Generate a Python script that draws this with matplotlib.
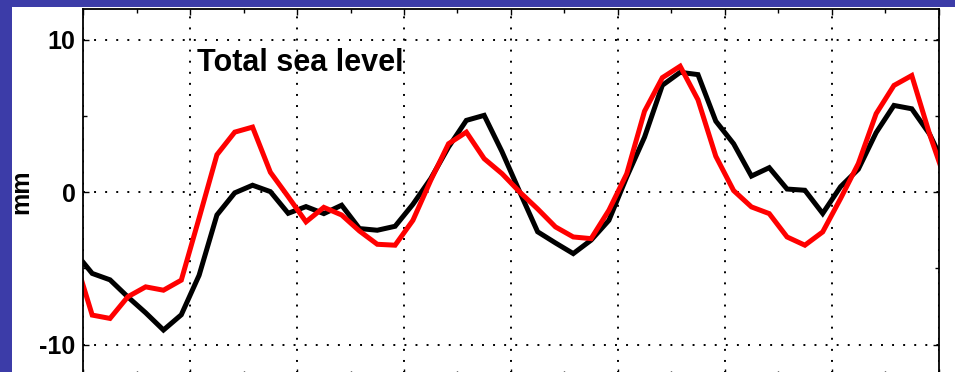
import numpy as np
import matplotlib.pyplot as plt
from matplotlib.patches import Rectangle
from matplotlib.ticker import MultipleLocator

# bimonthly samples, centred mid-period, one sample either side of the plotted range
t_start = 1993
t_step = 1 / 6
samples = np.arange(-1, 49)
time = t_start + t_step / 2 + samples * t_step

# sea level anomaly (mm)
observed = [-3.9, -5.33, -5.75, -6.87, -7.91, -9.04, -8.04, -5.45, -1.5, -0.05,
            0.45, 0.03, -1.39, -0.95, -1.41, -0.86, -2.39, -2.5, -2.24, -0.8,
            0.88, 2.95, 4.7, 5.03, 2.65, 0.0, -2.6, -3.33, -4.03, -3.15,
            -1.85, 0.99, 3.6, 7.0, 7.85, 7.7, 4.65, 3.17, 1.05, 1.6,
            0.2, 0.12, -1.4, 0.35, 1.5, 3.9, 5.68, 5.46, 3.8, 1.36]
model = [-4.24, -8.06, -8.28, -6.86, -6.21, -6.43, -5.77, -1.7, 2.45, 3.93,
         4.26, 1.3, -0.3, -1.95, -1.0, -1.5, -2.55, -3.42, -3.48, -1.85,
         0.77, 3.17, 3.93, 2.19, 1.21, 0.0, -1.1, -2.28, -2.94, -3.05,
         -1.19, 1.2, 5.3, 7.5, 8.25, 6.05, 2.35, 0.1, -0.97, -1.41,
         -2.94, -3.48, -2.61, -0.43, 1.87, 5.14, 6.99, 7.64, 3.8, 0.4]

y_ticks = [-10, 0, 10]
title = 'Total sea level'

plt.rcParams['font.family'] = ['Liberation Sans', 'DejaVu Sans']

W, H = 955, 372
fig = plt.figure(figsize=(W / 100, H / 100), dpi=100)
fig.patch.set_facecolor('#3c3ca8')
# white slide panel behind the plot
fig.add_artist(Rectangle((12 / W, 0), 1 - 12 / W, 1 - 7 / H,
                         transform=fig.transFigure, facecolor='white',
                         edgecolor='none', zorder=-10))

left, right = 83.3, 938.5
top, bottom = 9.0, 375.2
ax = fig.add_axes([left / W, (H - bottom) / H, (right - left) / W, (bottom - top) / H])
ax.set_facecolor('white')

ax.plot(time, observed, color='black', linewidth=3.6, solid_joinstyle='miter')
ax.plot(time, model, color='#ff0000', linewidth=3.6, solid_joinstyle='miter')

ax.set_xlim(t_start, t_start + 8)
ax.set_ylim(-12, 12)
ax.xaxis.set_major_locator(MultipleLocator(1))
ax.xaxis.set_minor_locator(MultipleLocator(0.5))
ax.set_yticks(y_ticks)
ax.yaxis.set_minor_locator(MultipleLocator(5))
ax.set_yticklabels([str(v) for v in y_ticks], fontsize=18, fontweight='bold')
ax.tick_params(which='both', direction='in', top=True, right=True, color='black')
ax.tick_params(which='major', length=4, width=1.0, pad=5.5)
ax.tick_params(which='minor', length=3, width=1.0)
ax.tick_params(axis='x', labelbottom=False)

ax.set_axisbelow(True)
ax.grid(True, which='major', color='black', linestyle=(0, (1, 4.7)), linewidth=1.4)
for s in ax.spines.values():
    s.set_linewidth(1.3)
    s.set_color('black')

ax.set_ylabel('mm', fontsize=18, fontweight='bold')
ax.yaxis.set_label_coords(-0.059, 0.5)

ax.text(1994.064, 7.93, title, fontsize=22, fontweight='bold', va='baseline', ha='left')

fig.savefig('out.png', dpi=100, facecolor=fig.get_facecolor())
